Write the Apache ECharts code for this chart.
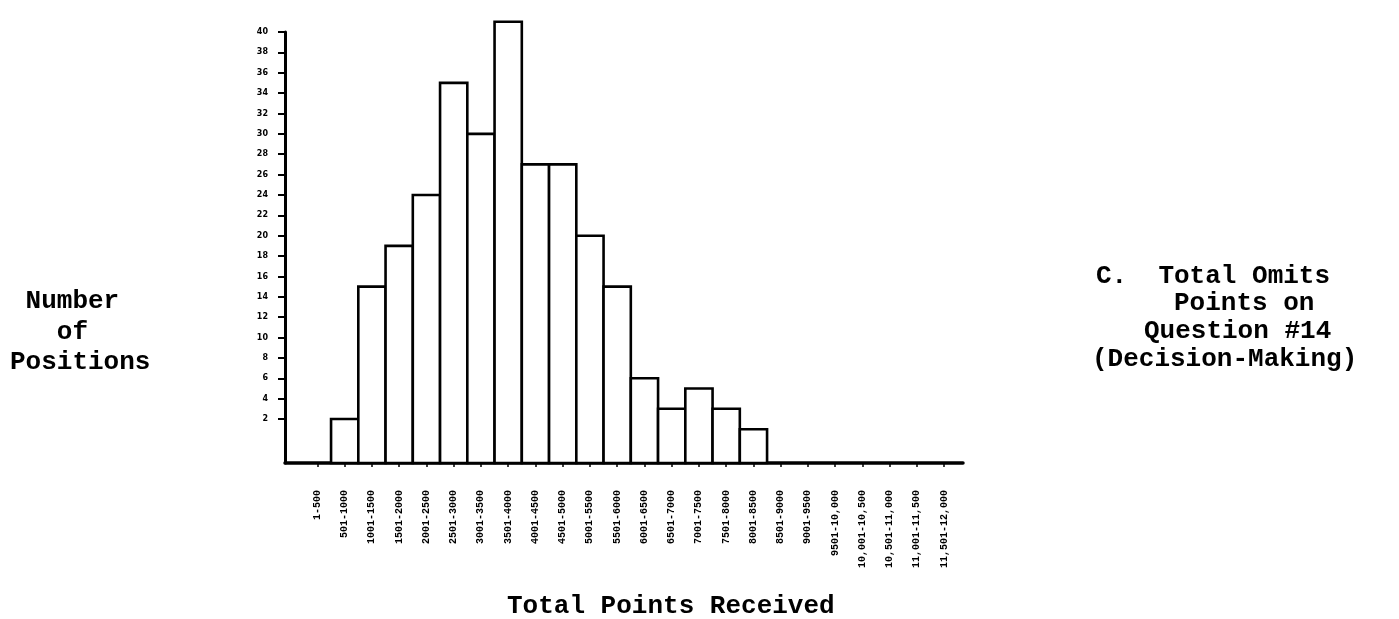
<!DOCTYPE html>
<html>
<head>
<meta charset="utf-8">
<script src="https://cdn.jsdelivr.net/npm/echarts@6/dist/echarts.min.js"></script>
<style>
  html, body { margin: 0; padding: 0; background: #fff; }
  #chart { width: 1399px; height: 619px; }
</style>
</head>
<body>
<div id="chart"></div>
<script>
// ---- data ----
const categories = [
  '1-500', '501-1000', '1001-1500', '1501-2000', '2001-2500', '2501-3000',
  '3001-3500', '3501-4000', '4001-4500', '4501-5000', '5001-5500', '5501-6000',
  '6001-6500', '6501-7000', '7001-7500', '7501-8000', '8001-8500', '8501-9000',
  '9001-9500', '9501-10,000', '10,001-10,500', '10,501-11,000', '11,001-11,500', '11,501-12,000'
];
const counts = [0, 2, 15, 19, 24, 35, 30, 41, 27, 27, 20, 15, 6, 3, 5, 3, 1, 0, 0, 0, 0, 0, 0, 0];
const yTickValues = [2, 4, 6, 8, 10, 12, 14, 16, 18, 20, 22, 24, 26, 28, 30, 32, 34, 36, 38, 40];
const xTickValues = categories.map((c, i) => i);

const Y_MIN = -2.32;
const FONT = '"Liberation Mono", "Courier New", monospace';

const chart = echarts.init(document.getElementById('chart'), null, { renderer: 'canvas' });

function textLine(str, x, y) {
  return {
    type: 'text',
    x: x, y: y,
    style: {
      text: str,
      font: 'bold 26px ' + FONT,
      fill: '#000',
      align: 'left',
      verticalAlign: 'middle'
    }
  };
}

chart.setOption({
  backgroundColor: '#fff',
  animation: false,
  grid: { left: 285, right: 436, top: 32, bottom: 156 },
  xAxis: {
    type: 'value',
    min: -1.19,
    max: 23.69,
    splitLine: { show: false },
    axisLine: { show: true, onZero: false, lineStyle: { color: '#000', width: 3.5 } },
    axisTick: {
      show: true, length: 4, customValues: xTickValues,
      lineStyle: { color: '#000', width: 1.5 }
    },
    axisLabel: {
      customValues: xTickValues,
      rotate: 90,
      margin: 27,
      color: '#000',
      fontFamily: FONT,
      fontWeight: 'bold',
      fontSize: 10,
      formatter: (v) => categories[Math.round(v)]
    }
  },
  yAxis: {
    type: 'value',
    min: Y_MIN,
    max: 40,
    splitLine: { show: false },
    axisLine: { show: true, onZero: false, lineStyle: { color: '#000', width: 3 } },
    axisTick: {
      show: true, length: 7, customValues: yTickValues,
      lineStyle: { color: '#000', width: 2 }
    },
    axisLabel: {
      customValues: yTickValues,
      margin: 17,
      color: '#000',
      fontFamily: '"DejaVu Sans", sans-serif',
      fontWeight: 'bold',
      fontSize: 8
    }
  },
  series: [{
    type: 'custom',
    clip: false,
    data: counts.map((v, i) => [i, v]),
    renderItem: function (params, api) {
      const i = api.value(0);
      const v = api.value(1);
      if (!v) return null;
      const p0 = api.coord([i - 0.5, Y_MIN]);
      const p1 = api.coord([i + 0.5, v]);
      return {
        type: 'rect',
        shape: { x: p0[0], y: p1[1], width: p1[0] - p0[0], height: p0[1] - p1[1] },
        style: { fill: '#fff', stroke: '#000', lineWidth: 2.6 }
      };
    }
  }],
  graphic: [
    textLine(' Number', 10, 301),
    textLine('   of', 10, 332),
    textLine('Positions', 10, 362),
    textLine('C.  Total Omits', 1096, 276),
    textLine('Points on', 1174, 303),
    textLine('Question #14', 1144, 331),
    textLine('(Decision-Making)', 1092, 359),
    textLine('Total Points Received', 507, 606)
  ]
});
</script>
</body>
</html>
